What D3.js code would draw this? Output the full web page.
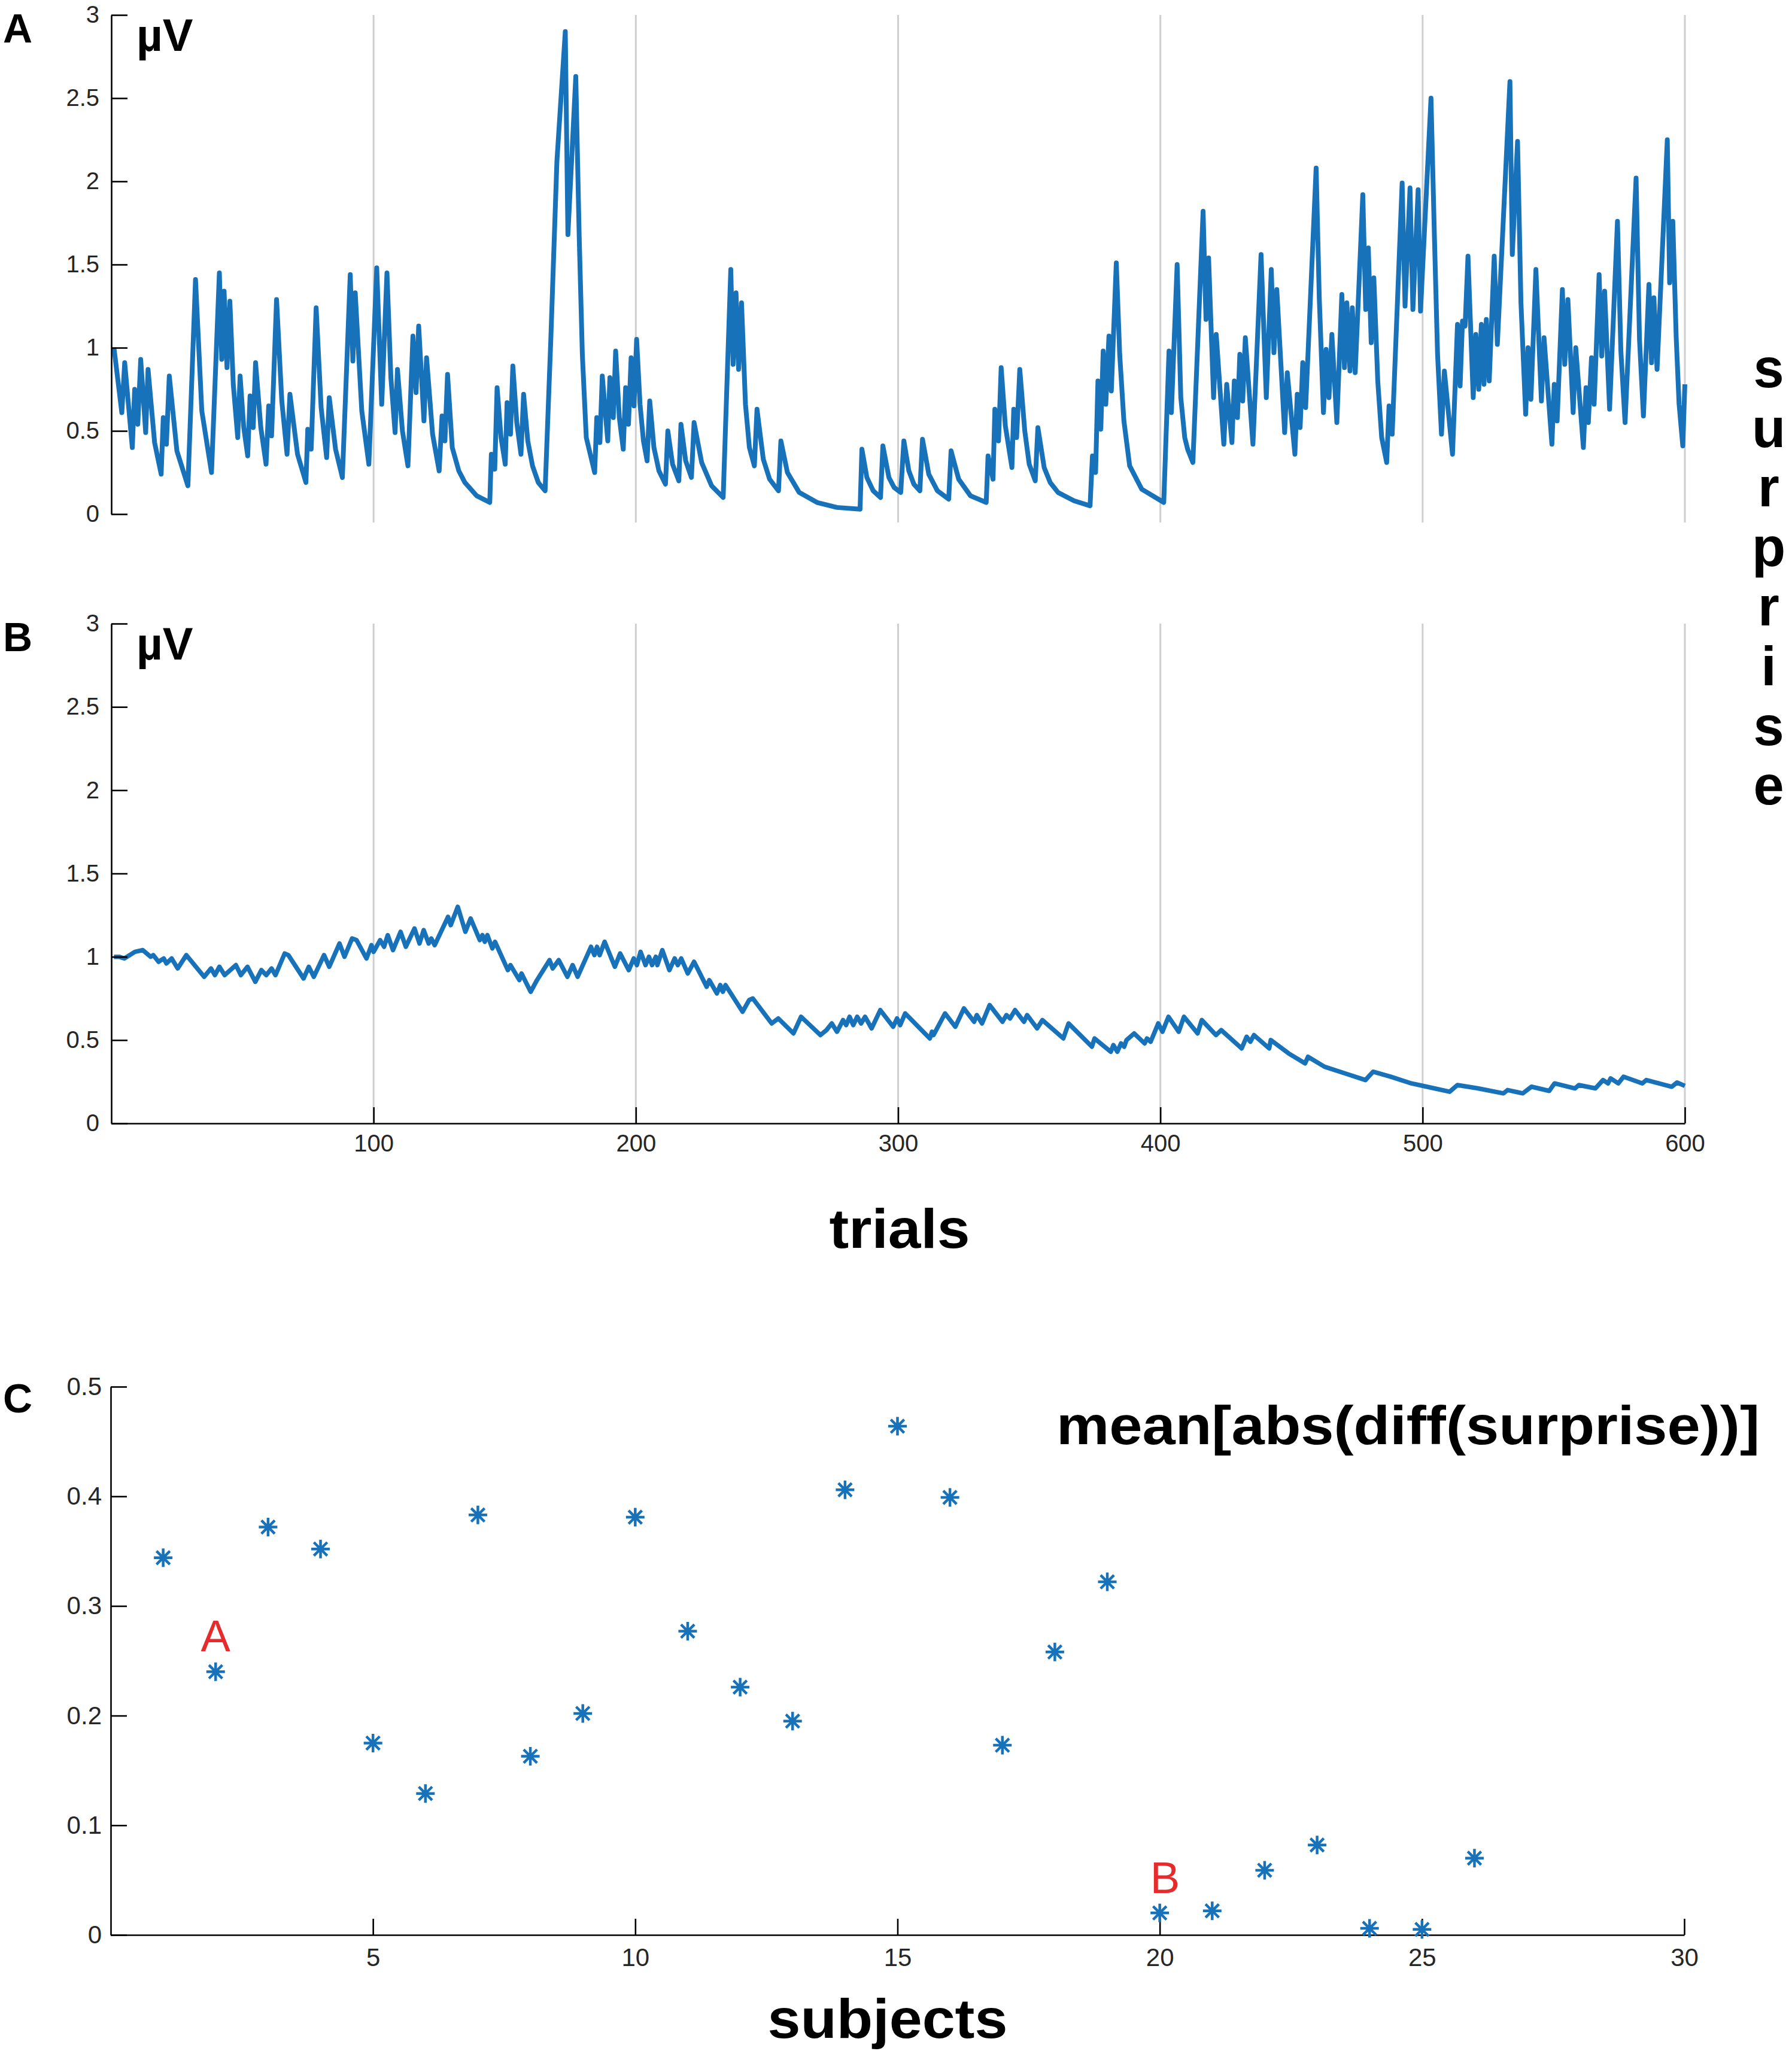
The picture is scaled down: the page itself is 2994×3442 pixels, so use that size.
<!DOCTYPE html>
<html>
<head>
<meta charset="utf-8">
<script src="https://cdn.jsdelivr.net/npm/d3@7"></script>
<style>
  html, body { margin: 0; padding: 0; background: #fff; }
  svg { display: block; }
  text { font-family: "Liberation Sans", Arial, Helvetica, sans-serif; }
</style>
</head>
<body>
<svg id="chart" width="2994" height="3442"></svg>
<script>
// ---------------- DATA ----------------
// Panel A: surprise trace of subject A  [trial, µV]
const surpriseA = [
[1,1.00],[4,0.61],[5.1,0.91],[8,0.40],[8.9,0.75],[10.1,0.54],[11.2,0.93],[13.1,0.49],[14,0.87],[16.5,0.43],
[19,0.24],[19.8,0.58],[21,0.42],[22.1,0.83],[25,0.38],[29.2,0.17],[32.1,1.41],[34.5,0.62],[38.2,0.25],[41.2,1.45],
[42.1,0.93],[43,1.34],[44.1,0.88],[45.2,1.28],[46.5,0.78],[48.2,0.46],[49.1,0.83],[50.5,0.52],[52,0.35],[52.9,0.71],[54.1,0.52],
[55,0.91],[57,0.52],[59,0.30],[60,0.65],[61.1,0.47],[63,1.29],[65,0.68],[67,0.36],[68.1,0.72],[71,0.36],
[74.2,0.19],[74.9,0.51],[76.2,0.39],[78.1,1.24],[80,0.64],[82.1,0.34],[83.1,0.70],[85.5,0.39],[88.1,0.22],[91.1,1.44],
[92.1,0.92],[93,1.33],[95.5,0.62],[98.2,0.30],[101.2,1.48],[103.1,0.66],[105.1,1.45],[106.6,0.82],[108.2,0.49],[109.1,0.87],
[111,0.50],[113.1,0.29],[115,1.07],[116.2,0.73],[117.2,1.13],[119.2,0.56],[120.2,0.94],[122.5,0.48],[125,0.26],[126.1,0.59],
[127.2,0.44],[128.2,0.84],[130,0.40],[132.5,0.26],[134.8,0.19],[139.3,0.11],[144.3,0.07],[144.9,0.36],[146.2,0.27],[147.1,0.76],
[148.6,0.46],[150.2,0.30],[150.9,0.67],[152.2,0.48],[153.1,0.89],[154.6,0.55],[156.2,0.36],[157.2,0.72],[158.8,0.44],[160.6,0.29],[162.8,0.19],[165.4,0.14],
[167.6,1.06],[169.9,2.12],[173.1,2.90],[174.1,1.68],[177.1,2.63],[178.4,1.67],[179.6,0.96],[181.1,0.46],[184.3,0.25],[185.1,0.58],
[186.3,0.43],[187.2,0.83],[189.3,0.44],[190.1,0.82],[191.4,0.58],[192.3,0.98],[193.7,0.58],[195.2,0.39],[196.1,0.76],[197.2,0.54],
[198.2,0.94],[199.3,0.65],[200.3,1.05],[201.6,0.66],[202.9,0.44],[204.3,0.32],[205.3,0.68],[206.9,0.40],[208.8,0.26],[211.3,0.18],[212.2,0.50],
[214,0.30],[216.4,0.20],[217.2,0.54],[219,0.32],[221.2,0.22],[222.2,0.55],[225.1,0.31],[228.9,0.17],[233.3,0.10],[236.2,1.47],
[237.1,0.90],[238.2,1.33],[239.2,0.87],[240.3,1.27],[241.8,0.66],[243.3,0.40],[245.2,0.29],[246.2,0.63],[248.6,0.33],[251,0.21],
[254.4,0.14],[255.3,0.44],[257.8,0.25],[262.3,0.13],[269.1,0.07],[276.7,0.04],[285.5,0.03],[286.2,0.39],[288.1,0.22],[290.5,0.14],
[293.3,0.10],[294.2,0.41],[296.5,0.22],[298.5,0.16],[301,0.13],[302.2,0.44],[304.1,0.26],[306,0.18],[308.3,0.14],[309.3,0.45],
[311.7,0.24],[315,0.14],[319.3,0.09],[320.2,0.38],[323.1,0.21],[327.6,0.11],[333.6,0.07],[334.3,0.35],[336.2,0.21],[336.9,0.63],
[338.3,0.44],[339.3,0.88],[340.9,0.53],[343.4,0.28],[344.1,0.63],[345.2,0.46],[346.4,0.87],[348.3,0.50],[350,0.30],[352.3,0.20],
[353.3,0.52],[355.7,0.28],[358,0.19],[361,0.13],[367.1,0.08],[373.2,0.05],[374.1,0.35],[375.3,0.25],[376.2,0.80],[377.3,0.51],
[378.2,0.98],[379.2,0.66],[380.4,1.07],[381.3,0.74],[383.2,1.51],[384.5,0.96],[386.1,0.56],[388.3,0.29],[392.9,0.15],[401.3,0.07],
[403.3,0.98],[404.2,0.61],[406.4,1.50],[407.8,0.70],[409.3,0.46],[410.4,0.39],[412.4,0.31],[416.3,1.82],[417.4,1.17],[418.4,1.54],
[420.3,0.70],[421.3,1.08],[424.2,0.42],[425.3,0.78],[427.3,0.43],[428.2,0.80],[429.4,0.58],[430.3,0.96],[431.4,0.68],[432.4,1.06],
[435.3,0.42],[438.4,1.56],[440.4,0.70],[442.3,1.47],[443.3,0.97],[444.4,1.35],[447.4,0.49],[448.4,0.85],[451.3,0.36],[452.2,0.72],
[453.3,0.52],[454.3,0.91],[455.4,0.64],[459.4,2.08],[460.6,1.30],[462.2,0.61],[463.2,0.99],[464.3,0.70],[465.4,1.08],[467.3,0.55],
[469.2,1.32],[470.2,0.88],[471.1,1.27],[472.3,0.86],[473.2,1.24],[474.3,0.85],[477.2,1.92],[478.3,1.23],[479.3,1.60],[480.4,1.03],
[481.4,1.42],[482.9,0.80],[484.4,0.46],[486.3,0.31],[487.2,0.65],[488.4,0.48],[492.2,1.99],[493.3,1.25],[495.2,1.96],[496.3,1.23],
[498.3,1.95],[499.2,1.22],[503.2,2.50],[504.5,1.67],[505.7,0.96],[507.2,0.48],[508.3,0.86],[511.4,0.36],[513.3,1.14],[514.3,0.77],
[515.2,1.16],[516.2,1.13],[517.3,1.55],[519.3,0.70],[520.3,1.08],[521.4,0.75],[522.4,1.14],[523.4,0.78],[524.3,1.17],[525.4,0.80],
[527.3,1.55],[528.5,1.02],[533.3,2.60],[534.2,1.56],[536.2,2.24],[537.5,1.27],[539.3,0.60],[540.2,1.00],[541.3,0.69],[543.2,1.47],
[545.3,0.68],[546.3,1.06],[549.3,0.42],[550.2,0.78],[551.3,0.56],[553.3,1.35],[554.2,0.90],[555.4,1.29],[557.4,0.61],[558.4,1.00],
[561.3,0.40],[562.3,0.76],[563.2,0.55],[564.4,0.94],[565.4,0.66],[567.3,1.44],[568.3,0.95],[569.4,1.34],[571.3,0.63],[574.3,1.76],
[575.6,0.98],[577.2,0.55],[581.4,2.02],[582.7,1.05],[584.2,0.59],[586.3,1.38],[587.3,0.91],[588.2,1.30],[589.4,0.87],[593.3,2.25],[594.2,1.39],[595.4,1.76],
[596.7,1.06],[597.8,0.66],[599.2,0.41],[600,0.78]
];

// Panel B: surprise trace of subject B  [trial, µV]
const surpriseB = [
[1,1.00],[3,1.00],[5,0.99],[7,1.01],[9,1.03],[12,1.04],[15,1.00],[16,1.01],[18,0.97],[20,0.99],
[21,0.96],[23,0.99],[25.3,0.93],[28.6,1.01],[35.4,0.88],[38,0.93],[39.5,0.89],[41.2,0.94],[43.2,0.89],[47.5,0.95],
[49.4,0.89],[51.9,0.94],[54.9,0.85],[57.2,0.92],[59.1,0.89],[61.1,0.93],[62.6,0.89],[66.1,1.02],[67.5,1.01],[73.3,0.87],
[75.3,0.94],[77.2,0.88],[81.1,1.01],[83.1,0.94],[87,1.08],[88.9,1.00],[91.8,1.11],[93.5,1.10],[97.3,0.99],[99.2,1.07],
[100,1.03],[102.5,1.10],[104,1.06],[105.4,1.13],[107.4,1.04],[110.3,1.15],[112.3,1.06],[115.6,1.17],[117.5,1.08],[119.1,1.16],
[121,1.08],[122,1.11],[123.3,1.07],[128.4,1.24],[129.4,1.19],[132.1,1.30],[135,1.15],[137,1.23],[140.5,1.10],[141.5,1.13],
[142.4,1.09],[143.4,1.13],[145.3,1.05],[146.3,1.09],[151.2,0.92],[152.2,0.95],[155.6,0.86],[156.4,0.90],[159.9,0.79],[162.3,0.86],
[167.1,0.98],[168.3,0.93],[170.6,0.98],[173.9,0.88],[175.9,0.95],[177.8,0.88],[182.9,1.06],[184.2,1.01],[185.2,1.06],[186.2,1.01],
[188.1,1.09],[192,0.94],[194,1.02],[197.3,0.92],[199.2,0.99],[200.4,0.95],[201.8,1.03],[203.7,0.95],[205,1.00],[206.2,0.95],
[207.6,1.00],[208.2,0.95],[210.1,1.04],[212.8,0.92],[214.8,0.99],[216,0.95],[217.3,0.99],[219.8,0.90],[222.2,0.97],[227,0.82],
[228,0.86],[230.9,0.78],[232.2,0.83],[233.2,0.79],[234.2,0.83],[240.7,0.67],[243.2,0.74],[244.6,0.75],[251.8,0.60],[254.3,0.63],
[260.1,0.54],[263,0.64],[270.4,0.53],[272.7,0.56],[274.7,0.60],[276.7,0.55],[279,0.62],[280.2,0.59],[281.5,0.64],[282.9,0.59],
[284.4,0.64],[285.9,0.60],[287.4,0.64],[289.9,0.57],[293.2,0.68],[298.1,0.58],[299.6,0.63],[300.8,0.59],[302.7,0.66],[312.1,0.51],
[312.9,0.55],[313.5,0.53],[317.9,0.66],[321.8,0.58],[325.1,0.69],[329,0.61],[330,0.65],[332,0.60],[334.9,0.71],[339.8,0.61],
[341.3,0.65],[342.7,0.63],[344.6,0.68],[348,0.61],[349.2,0.65],[353,0.57],[355,0.62],[363,0.51],[365,0.60],[373.9,0.46],
[374.9,0.51],[381.1,0.43],[382.1,0.47],[383.6,0.43],[385,0.48],[386.2,0.46],[387.1,0.50],[390,0.54],[394,0.48],[394.9,0.51],
[396.3,0.49],[399.2,0.60],[400.8,0.55],[403.1,0.64],[407,0.55],[409,0.64],[414.2,0.54],[415.8,0.62],[421.2,0.53],[423.2,0.56],
[431,0.45],[432.9,0.52],[434.3,0.49],[435.7,0.53],[441.5,0.45],[442.1,0.50],[448.9,0.42],[455.2,0.36],[456.3,0.40],[462.6,0.34],
[470.4,0.30],[478.2,0.26],[481.1,0.31],[487.9,0.28],[495.7,0.24],[501.6,0.22],[510.3,0.19],[513.3,0.23],[521.1,0.21],[530.8,0.18],
[532.4,0.20],[538.2,0.18],[541.5,0.22],[548.3,0.195],[550.3,0.24],[558.1,0.21],[559.6,0.23],[565.9,0.21],[568.8,0.26],[570.7,0.24],
[571.7,0.27],[574.6,0.24],[576.6,0.28],[583.8,0.24],[585.3,0.26],[595,0.22],[597,0.245],[600,0.225]
];

// Panel C: mean[abs(diff(surprise))] per subject
const subjects = [1,2,3,4,5,6,7,8,9,10,11,12,13,14,15,16,17,18,19,20,21,22,23,24,25,26];
const meanAbsDiff = [0.344,0.240,0.372,0.352,0.175,0.129,0.383,0.163,0.202,0.381,0.277,0.226,0.195,0.406,
                     0.464,0.399,0.173,0.258,0.322,0.020,0.022,0.059,0.082,0.006,0.005,0.070];
// highlighted subjects (label, subject, label value)
const highlightLabels = [["A",2,0.259],["B",20.1,0.038]];

// tick values / labels
const uvTicks = [0,0.5,1,1.5,2,2.5,3];
const trialTicks = [100,200,300,400,500,600];
const subjectTicks = [5,10,15,20,25,30];
const cTicks = [0,0.1,0.2,0.3,0.4,0.5];
const yLabelLetters = ["s","u","r","p","r","i","s","e"];

// ---------------- DRAWING ----------------
const svg = d3.select("#chart");
svg.append("rect").attr("width",2994).attr("height",3442).attr("fill","#fff");

const BLUE = "#1872ba", GRID = "#cfcfcf", TXT = "#262626";

const xTrial = d3.scaleLinear().domain([0,600]).range([186,2815]);
const yA = d3.scaleLinear().domain([0,3]).range([859,25]);
const yB = d3.scaleLinear().domain([0,3]).range([1877,1042]);
const xSub = d3.scaleLinear().domain([0,30]).range([185,2814]);
const yC = d3.scaleLinear().domain([0,0.5]).range([3233,2317]);

function styleAxis(g, fs){
  g.select(".domain").attr("stroke","#000").attr("stroke-width",2.6);
  g.selectAll(".tick line").attr("stroke","#000").attr("stroke-width",2.6);
  g.selectAll(".tick text").attr("fill",TXT).attr("font-size",fs)
    .attr("font-family","'Liberation Sans', Arial, sans-serif");
}

// gridlines
function grid(y0, y1){
  svg.append("g").selectAll("line").data(trialTicks).join("line")
    .attr("x1",d=>xTrial(d)).attr("x2",d=>xTrial(d))
    .attr("y1",y0).attr("y2",y1)
    .attr("stroke",GRID).attr("stroke-width",3);
}
grid(yA(3), yA(0)+14);
grid(yB(3), yB(0));

// lines
const lineA = d3.line().x(d=>xTrial(d[0])).y(d=>yA(d[1]));
const lineB = d3.line().x(d=>xTrial(d[0])).y(d=>yB(d[1]));
svg.append("path").attr("d",lineA(surpriseA)).attr("fill","none")
  .attr("stroke",BLUE).attr("stroke-width",8).attr("stroke-linejoin","round");
svg.append("path").attr("d",lineB(surpriseB)).attr("fill","none")
  .attr("stroke",BLUE).attr("stroke-width",7.5).attr("stroke-linejoin","round");

// axes A
const fmt = d=>String(d);
const gA = svg.append("g").attr("transform",`translate(${xTrial(0)},0)`)
  .call(d3.axisLeft(yA).tickValues(uvTicks).tickFormat(fmt).tickSizeInner(-27).tickSizeOuter(0).tickPadding(20));
styleAxis(gA,40);

// axes B
const gB = svg.append("g").attr("transform",`translate(${xTrial(0)},0)`)
  .call(d3.axisLeft(yB).tickValues(uvTicks).tickFormat(fmt).tickSizeInner(-27).tickSizeOuter(0).tickPadding(20));
styleAxis(gB,40);
const gBx = svg.append("g").attr("transform",`translate(0,${yB(0)})`)
  .call(d3.axisBottom(xTrial).tickValues(trialTicks).tickFormat(fmt).tickSizeInner(-27).tickSizeOuter(0).tickPadding(19));
styleAxis(gBx,40);

// axes C
const gC = svg.append("g").attr("transform",`translate(${xSub(0)},0)`)
  .call(d3.axisLeft(yC).tickValues(cTicks).tickFormat(fmt).tickSizeInner(-27).tickSizeOuter(0).tickPadding(15));
styleAxis(gC,42);
const gCx = svg.append("g").attr("transform",`translate(0,${yC(0)})`)
  .call(d3.axisBottom(xSub).tickValues(subjectTicks).tickFormat(fmt).tickSizeInner(-27).tickSizeOuter(0).tickPadding(22));
styleAxis(gCx,42);

// asterisk markers (+ and x combined)
const asterisk = {
  draw(ctx, size){
    const r = Math.sqrt(size)/2, q = r*0.72;
    ctx.moveTo(0,-r); ctx.lineTo(0,r);
    ctx.moveTo(-r,0); ctx.lineTo(r,0);
    ctx.moveTo(-q,-q); ctx.lineTo(q,q);
    ctx.moveTo(-q,q); ctx.lineTo(q,-q);
  }
};
const sym = d3.symbol().type(asterisk).size(31*31);
svg.append("g").selectAll("path").data(subjects).join("path")
  .attr("transform",(d,i)=>`translate(${xSub(d)},${yC(meanAbsDiff[i])})`)
  .attr("d",sym()).attr("fill","none").attr("stroke",BLUE).attr("stroke-width",4.5);

// red labels
svg.append("g").selectAll("text").data(highlightLabels).join("text")
  .attr("x",d=>xSub(d[1])).attr("y",d=>yC(d[2]))
  .attr("text-anchor","middle").attr("font-size",74).attr("fill","#e52b2b")
  .text(d=>d[0]);

// panel letters
[["A",71],["B",1088],["C",2360]].forEach(([t,y])=>{
  svg.append("text").attr("x",5).attr("y",y).attr("font-size",68)
    .attr("font-weight","bold").attr("fill","#000").text(t);
});
// µV units
[85,1102].forEach(y=>{
  svg.append("text").attr("x",228).attr("y",y).attr("font-size",76)
    .attr("font-weight","bold").attr("fill","#000").text("µV");
});

// axis titles
svg.append("text").attr("x",1503).attr("y",2085).attr("text-anchor","middle")
  .attr("font-size",92).attr("font-weight","bold").attr("fill","#000")
  .attr("textLength",235).attr("lengthAdjust","spacingAndGlyphs").text("trials");
svg.append("text").attr("x",1483).attr("y",3405).attr("text-anchor","middle")
  .attr("font-size",92).attr("font-weight","bold").attr("fill","#000")
  .attr("textLength",401).attr("lengthAdjust","spacingAndGlyphs").text("subjects");
svg.append("text").attr("x",1765).attr("y",2413)
  .attr("font-size",90).attr("font-weight","bold").attr("fill","#000")
  .attr("textLength",1175).attr("lengthAdjust","spacingAndGlyphs").text("mean[abs(diff(surprise))]");

// vertical stacked "surprise"
svg.append("g").selectAll("text").data(yLabelLetters).join("text")
  .attr("x",2955).attr("y",(d,i)=>647 + i*99.6).attr("text-anchor","middle")
  .attr("font-size",92).attr("font-weight","bold").attr("fill","#000")
  .text(d=>d);
</script>
</body>
</html>
